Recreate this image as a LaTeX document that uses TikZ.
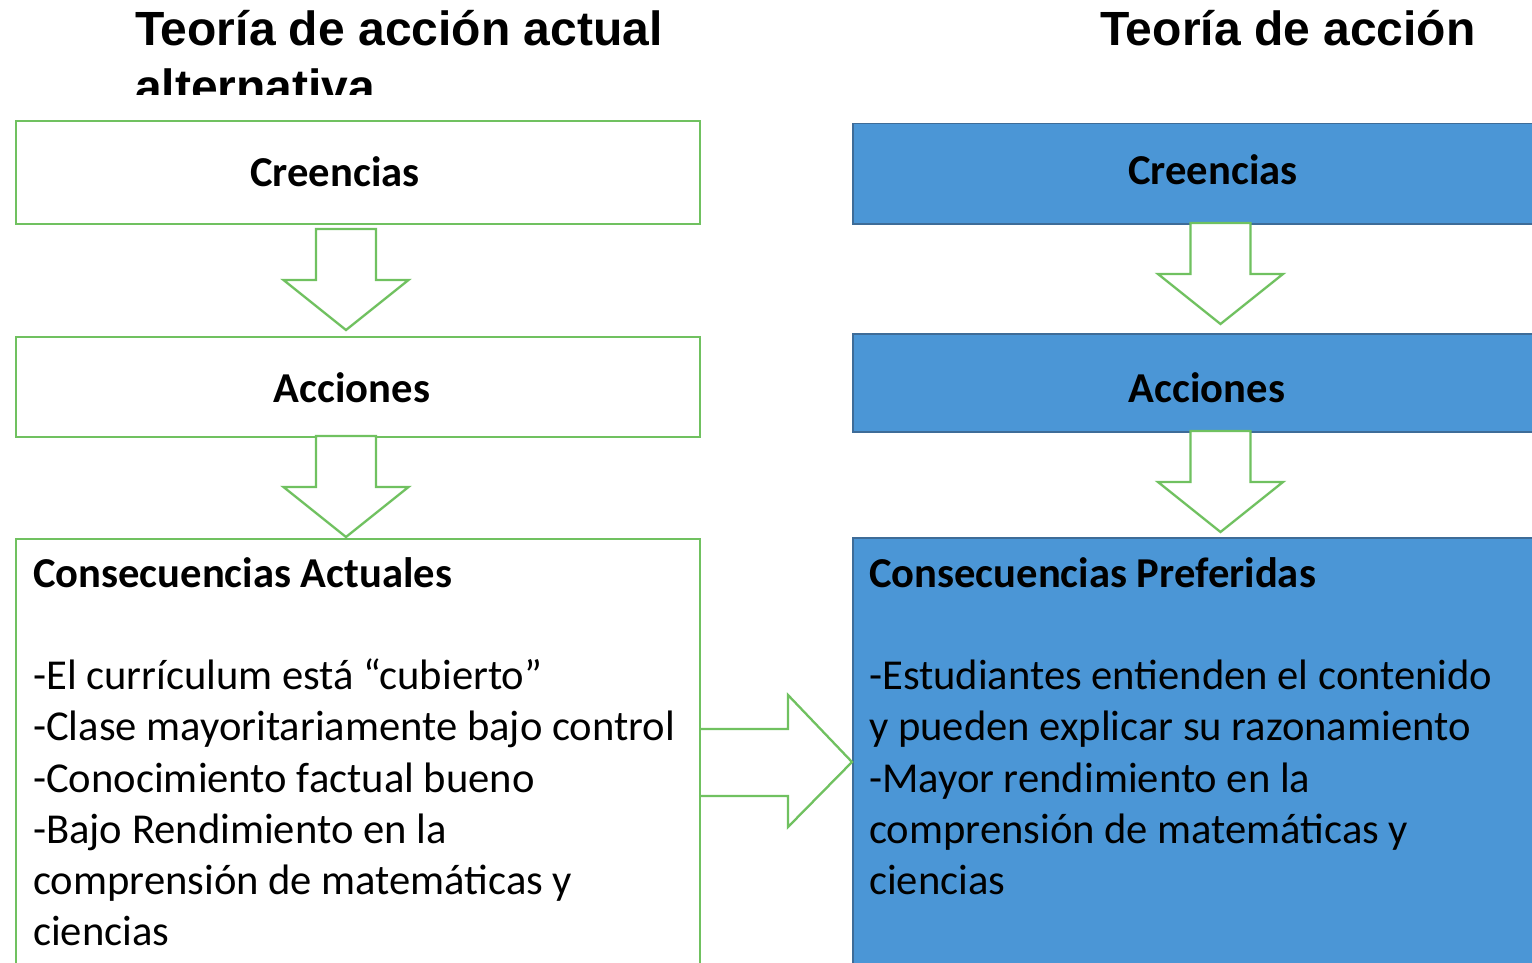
\documentclass[tikz,border=0pt]{standalone}
\usepackage{fontspec}
\setmainfont{Carlito}
\newfontfamily\titlefont{Liberation Sans}
\definecolor{grn}{RGB}{112,193,96}
\definecolor{blu}{RGB}{75,150,214}
\definecolor{bluedge}{RGB}{62,108,152}
\tikzset{
  wbox/.style={draw=grn,line width=2.2pt,fill=white,rectangle,anchor=north west,inner sep=0},
  bbox/.style={draw=bluedge,line width=1.5pt,fill=blu,rectangle,anchor=north west,inner sep=0},
  lbl/.style={font=\fontsize{42.6}{51.2}\selectfont\bfseries,inner sep=0},
  bodytext/.style={font=\fontsize{42.6}{51.2}\selectfont,inner sep=0,align=left,anchor=north west},
  ttl/.style={font=\titlefont\fontsize{48}{58}\selectfont\bfseries,inner sep=0,anchor=base west},
  fatarrow/.style={draw=grn,line width=2.3pt,fill=white,line join=miter},
  downarrow/.pic={\path[fatarrow] (-30,0) -- (30,0) -- (30,51) -- (62.5,51) -- (0,101) -- (-62.5,51) -- (-30,51) -- cycle;}
}
\begin{document}
\begin{tikzpicture}[x=1pt,y=-1pt]
\useasboundingbox (0,0) rectangle (1532,963);
\clip (0,0) rectangle (1532,963);
\fill[white] (0,0) rectangle (1532,963);

% titles
\node[ttl] (t1) at (135,46) {Teoría de acción actual};
\begin{scope}
\clip (0,0) rectangle (766,95);
\node[ttl] (t1b) at (135,104) {alternativa};
\end{scope}
\node[ttl] (t2) at (1100,46) {Teoría de acción};

% left boxes
\node[wbox,minimum width=684pt,minimum height=103pt] (lc) at (15,120) {};
\node[wbox,minimum width=684pt,minimum height=100pt] (la) at (15,336) {};
\node[wbox,minimum width=684pt,minimum height=470pt] (lq) at (15,538) {};
% right boxes
\node[bbox,minimum width=720pt,minimum height=100pt] (rc) at (852,123) {};
\node[bbox,minimum width=720pt,minimum height=98pt] (ra) at (852,333) {};
\node[bbox,minimum width=720pt,minimum height=470pt] (rq) at (852,537) {};

% labels
\node[lbl] (lct) at (335,172) {Creencias};
\node[lbl] (lat) at (352,388) {Acciones};
\node[lbl] (rct) at (1213,170) {Creencias};
\node[lbl] (rat) at (1207,388) {Acciones};

\node[bodytext] (lqt) at (33,551.2) {\strut\textbf{Consecuencias Actuales}\\ \\
-El currículum está “cubierto”\\
-Clase mayoritariamente bajo control\\
-Conocimiento factual bueno\\
-Bajo Rendimiento en la\\
comprensión de matemáticas y\\
ciencias};
\node[bodytext] (rqt) at (869,551.2) {\strut\textbf{Consecuencias Preferidas}\\ \\
-Estudiantes entienden el contenido\\
y pueden explicar su razonamiento\\
-Mayor rendimiento en la\\
comprensión de matemáticas y\\
ciencias};

% down arrows
\pic at (346,229) {downarrow};
\pic at (346,436) {downarrow};
\pic at (1220.5,223) {downarrow};
\pic at (1220.5,431) {downarrow};

% right arrow from left consequences to right consequences
\coordinate (s1) at (lq.north east |- 0,729);
\coordinate (s2) at (lq.north east |- 0,796);
\coordinate (tip) at (rq.north west |- 0,762);
\path[fatarrow] (s1) -- (788,729) -- (788,695) -- (tip) -- (788,827) -- (788,796) -- (s2);
\end{tikzpicture}
\end{document}
